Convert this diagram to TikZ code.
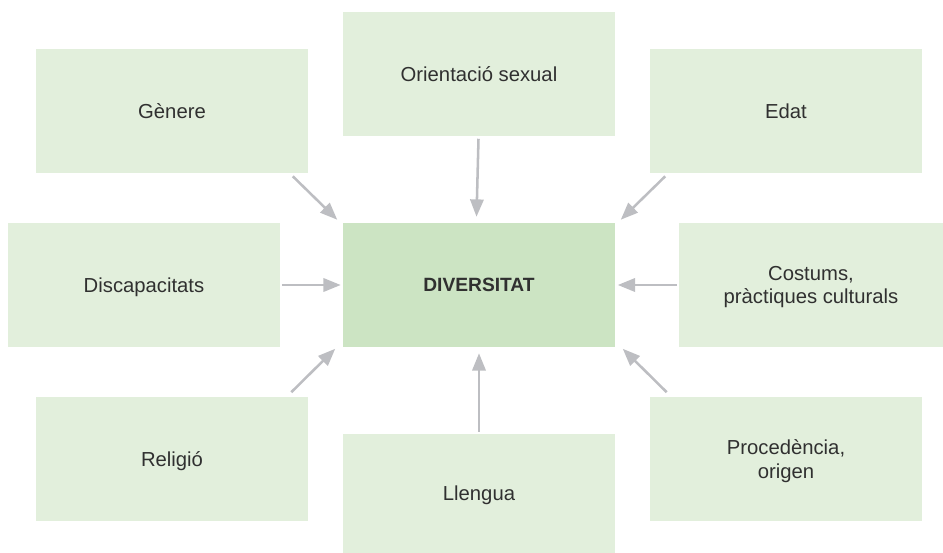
\documentclass[tikz,border=0pt]{standalone}
\usepackage{fontspec}
\setmainfont{Liberation Sans}
\usetikzlibrary{arrows.meta,calc}
\definecolor{boxlight}{HTML}{E2EFDC}
\definecolor{boxdark}{HTML}{CCE4C3}
\definecolor{arrgray}{HTML}{BDBEC2}
\definecolor{txt}{HTML}{303030}
\begin{document}
\begin{tikzpicture}[x=0.75pt,y=-0.75pt,
  factor/.style={rectangle,fill=boxlight,inner sep=0pt,minimum width=204pt,minimum height=93pt,
    align=center,text=txt,text depth=0pt,font=\fontsize{15.2pt}{17.5pt}\selectfont},
  center/.style={factor,fill=boxdark,font=\fontsize{14.4pt}{17.5pt}\selectfont\bfseries},
  arr/.style={draw=arrgray,line width=1.9pt,-{Triangle[length=13pt,width=10pt]}}]
\useasboundingbox (0,0) rectangle (943,553);
\node[factor] (gen) at (172,111) {Gènere};
\node[factor] (ori) at (479,74) {Orientació sexual};
\node[factor] (edat) at (786,111) {Edat};
\node[factor] (disc) at (144,285) {Discapacitats};
\node[center] (div) at (479,285) {DIVERSITAT};
\node[factor,minimum width=198pt] (cos) at (811,285) {Costums,\\pràctiques culturals};
\node[factor] (rel) at (172,459) {Religió};
\node[factor,minimum height=89.25pt] (lle) at (479,493.5) {Llengua};
\node[factor] (proc) at (786,459) {Procedència,\\origen};
% connectors
\draw[arr] ($(gen.south east)+(-15.5,3)$) -- ($(div.north west)+(-5.5,-3)$);
\draw[arr] ($(edat.south west)+(15.5,3)$) -- ($(div.north east)+(5.5,-3)$);
\draw[arr] ($(ori.south)+(-0.5,2.5)$) -- ($(div.north)+(-2.5,-6)$);
\draw[arr] ($(disc.east)+(1.7,0)$) -- ($(div.west)+(-2,0)$);
\draw[arr] ($(cos.west)+(-1.7,0)$) -- ($(div.east)+(2.5,0)$);
\draw[arr] ($(rel.north east)+(-17,-4.5)$) -- ($(div.south west)+(-7.5,1.5)$);
\draw[arr] ($(proc.north west)+(17,-4.5)$) -- ($(div.south east)+(7.5,1.5)$);
\draw[arr] ($(lle.north)+(0,-2)$) -- ($(div.south)+(0,6)$);
\end{tikzpicture}
\end{document}
